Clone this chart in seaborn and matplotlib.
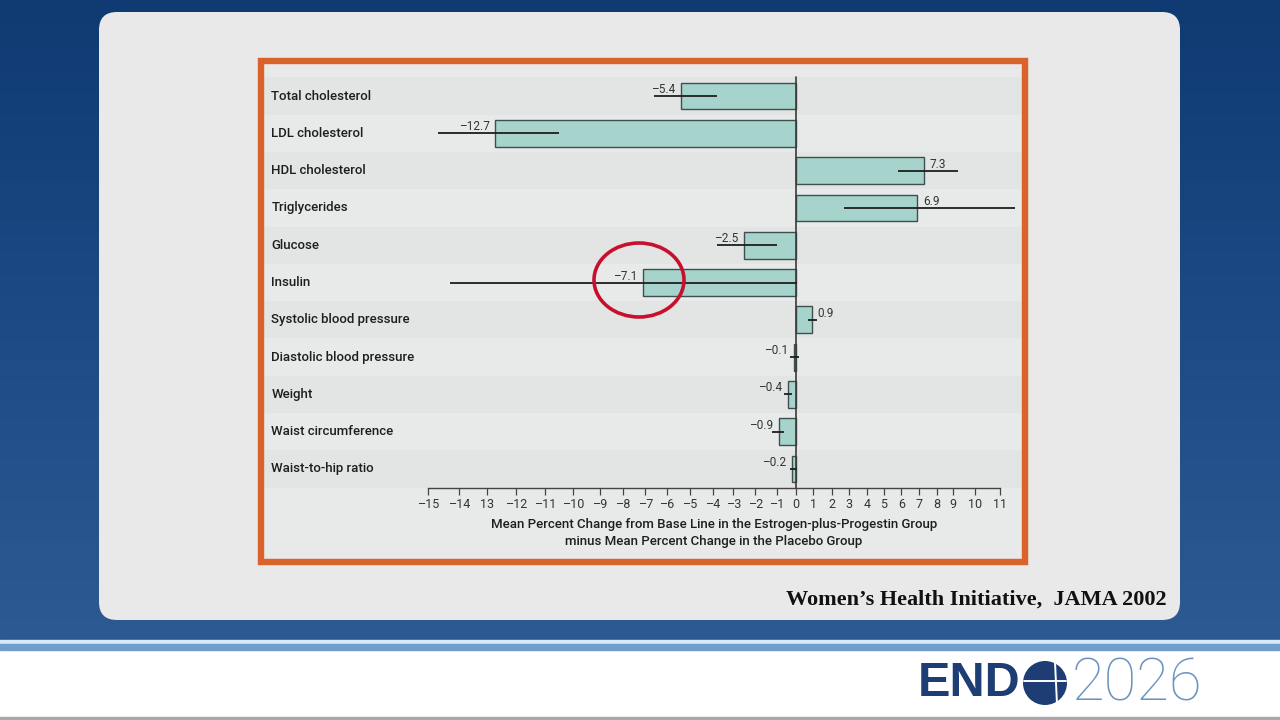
import numpy as np
import matplotlib
matplotlib.use("Agg")
import matplotlib.pyplot as plt
import seaborn as sns
from matplotlib.patches import FancyBboxPatch, Rectangle, Ellipse, Circle
from matplotlib.transforms import blended_transform_factory

# ===========================
# Data
# ===========================
categories = [
    "Total cholesterol", "LDL cholesterol", "HDL cholesterol", "Triglycerides",
    "Glucose", "Insulin", "Systolic blood pressure", "Diastolic blood pressure",
    "Weight", "Waist circumference", "Waist-to-hip ratio",
]
mean_change = [-5.4, -12.7, 7.3, 6.9, -2.5, -7.1, 0.9, -0.1, -0.4, -0.9, -0.2]
ci_low = [-6.6, -14.7, 5.8, 2.7, -3.8, -14.3, 0.7, -0.3, -0.6, -1.2, -0.3]
ci_high = [-3.8, -10.5, 9.2, 11.6, -1.0, 0.1, 1.2, 0.2, -0.2, -0.6, 0.1]

tick_values = list(range(-15, 12))
tick_labels = ["\u201315", "\u201314", "13", "\u201312", "\u201311", "\u201310", "\u20139",
               "\u20138", "\u20137", "\u20136", "\u20135", "\u20134", "\u20133", "\u20132",
               "\u20131", "0", "1", "2", "3", "4", "5", "6", "7", "8", "9", "10", "11"]

# the printed axis on the slide is not evenly spaced: pixel spot of each tick
tick_px = [428.3, 459.3, 486.7, 516.0, 545.3, 573.3, 600.0, 622.7, 645.3, 666.7,
           690.0, 713.0, 733.3, 755.3, 776.7, 795.5, 813.3, 831.7, 848.7, 866.7,
           883.7, 901.3, 919.0, 936.7, 953.3, 975.0, 1000.0]

xlabel = ("Mean Percent Change from Base Line in the Estrogen-plus-Progestin Group\n"
          "minus Mean Percent Change in the Placebo Group")
source = "Women\u2019s Health Initiative,  JAMA 2002"

# ===========================
# Style
# ===========================
sns.set_theme(style="white")
cond = ["Liberation Sans Narrow", "Roboto", "DejaVu Sans"]
plt.rcParams["font.family"] = cond

W, H = 1280, 720
fig = plt.figure(figsize=(12.8, 7.2), dpi=100)

# background layer in pixel units
bg = fig.add_axes([0, 0, 1, 1], zorder=0)
bg.set_xlim(0, W)
bg.set_ylim(H, 0)
bg.axis("off")

grad = np.linspace(0, 1, 256).reshape(-1, 1)
bg.imshow(grad, extent=(0, W, 641, 0), cmap=matplotlib.colors.LinearSegmentedColormap.from_list(
    "slide", ["#0f3a72", "#1d4a85", "#2d5a92"]), aspect="auto", zorder=0)
bg.add_patch(Rectangle((0, 641), W, 79, color="white", zorder=1))
bg.add_patch(Rectangle((0, 640), W, 4, color="#d6eaf7", zorder=2))
bg.add_patch(Rectangle((0, 644), W, 6, color="#6f9dcc", zorder=2))
bg.add_patch(Rectangle((0, 717), W, 3, color="#a8a8a8", zorder=2))

bg.add_patch(FancyBboxPatch((99, 12), 1081, 608, boxstyle="round,pad=0,rounding_size=18",
                            facecolor="#e9e9e9", edgecolor="none", zorder=3))
bg.add_patch(Rectangle((261, 61), 763, 501, facecolor="#e8eaea", edgecolor="none", zorder=4))

bg.text(1167, 600, source, ha="right", va="center", fontsize=16, fontweight="bold",
        family=["Liberation Serif", "DejaVu Serif"], color="#111111", zorder=5)

# ENDO 2026 logo
bg.text(918, 684, "END", ha="left", va="center", fontsize=35, fontweight="bold",
        family=["Liberation Sans", "DejaVu Sans"], color="#1d3d74", zorder=5)
bg.add_patch(Circle((1045, 683), 22, facecolor="#1d3d74", edgecolor="none", zorder=5))
bg.plot([1024, 1066], [681, 681], color="white", lw=1.4, zorder=6)
bg.plot([1055, 1057], [662, 704], color="white", lw=1.4, zorder=6)
bg.text(1072, 684, "2026", ha="left", va="center", fontsize=43, fontweight="light",
        family=["Roboto", "Lato", "DejaVu Sans"], color="#6b93bf", zorder=5)

# ===========================
# Chart
# ===========================
left, right, top, bottom = 263, 1022, 64, 488
ax = fig.add_axes([left / W, 1 - bottom / H, (right - left) / W, (bottom - top) / H], zorder=2)
ax.set_facecolor("none")

sns.barplot(x=mean_change, y=categories, orient="h", color="#a6d3cb", edgecolor="#3f4f4d",
            linewidth=1.0, width=0.72, saturation=1, ax=ax)

# piecewise scale that follows the printed axis
vals = [-22] + tick_values + [14]
pix = [tick_px[0] - 7 * 31] + tick_px + [tick_px[-1] + 3 * 25]


def fwd(v):
    return np.interp(v, vals, pix)


def inv(p):
    return np.interp(p, pix, vals)


ax.set_xscale("function", functions=(fwd, inv))
ax.set_xlim(inv(left), inv(right))
ax.set_ylim(10.51, -0.86)

rows = np.arange(len(categories))
for i in rows:
    if i % 2 == 0:
        ax.axhspan(i - 0.5, i + 0.5, color="#e2e5e4", zorder=0, lw=0)

ax.axvline(0, ymin=0, ymax=0.97, color="#3a3a3a", lw=1.2, zorder=3)
ax.hlines(rows, ci_low, ci_high, color="#1e1e1e", lw=1.3, zorder=4)

for i, v in zip(rows, mean_change):
    txt = f"{v:.1f}".replace("-", "\u2013")
    ax.annotate(txt, (v, i), xytext=(-4 if v < 0 else 4, 0), textcoords="offset points",
                ha="right" if v < 0 else "left", va="bottom", fontsize=8.5, color="#333333",
                zorder=5)

trans = blended_transform_factory(ax.transAxes, ax.transData)
for i, c in zip(rows, categories):
    ax.text(0.011, i, c, transform=trans, ha="left", va="center", fontsize=9.5,
            fontweight="medium", color="#1e1e1e")

ax.set_yticks([])
ax.set_ylabel("")
ax.set_xticks(tick_values)
ax.set_xticklabels(tick_labels, fontsize=9, color="#333333")
ax.minorticks_off()
ax.tick_params(axis="x", direction="out", length=5, width=0.9, color="#444444", pad=2,
               bottom=True)
for s in ["left", "right", "top"]:
    ax.spines[s].set_visible(False)
ax.spines["bottom"].set_color("#444444")
ax.spines["bottom"].set_linewidth(1.0)
ax.spines["bottom"].set_bounds(-15, 11)

ax.set_xlabel(xlabel, fontsize=9.5, fontweight="medium", color="#1e1e1e", linespacing=1.4)
ax.xaxis.set_label_coords((714 - left) / (right - left), -0.071)

# orange frame and red highlight circle from the slide
over = fig.add_axes([0, 0, 1, 1], zorder=5)
over.set_xlim(0, W)
over.set_ylim(H, 0)
over.axis("off")
over.patch.set_alpha(0)
over.add_patch(Rectangle((260.5, 61), 764, 501, facecolor="none", edgecolor="#d9632a",
                         linewidth=4.6))
over.add_patch(Ellipse((639, 280), 90, 74, facecolor="none", edgecolor="#c8102e", lw=2.6))

fig.savefig("out.png", dpi=100)
